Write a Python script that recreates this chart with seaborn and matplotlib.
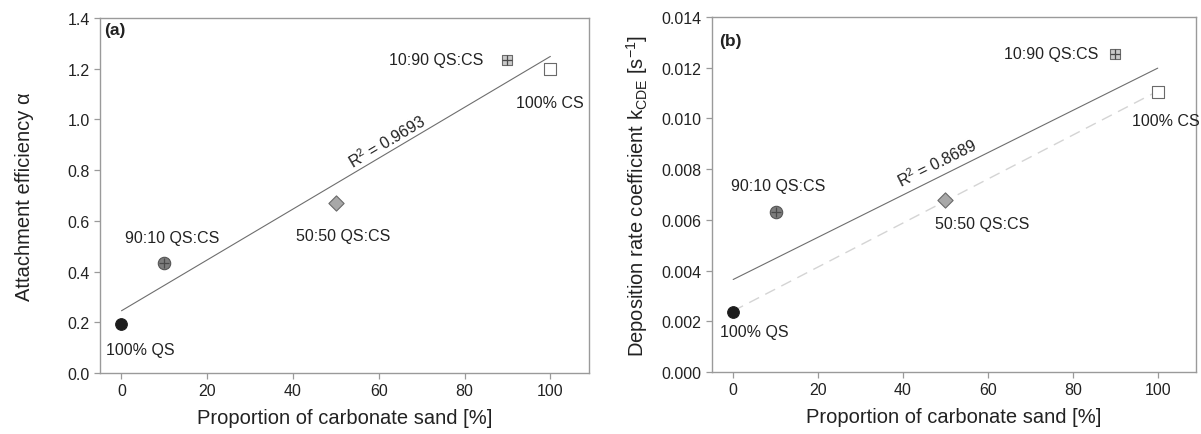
import numpy as np
import pandas as pd
import matplotlib
matplotlib.use("Agg")
import matplotlib.pyplot as plt
import seaborn as sns

# ---- data ----
proportion = [0, 10, 50, 90, 100]
labels = ["100% QS", "90:10 QS:CS", "50:50 QS:CS", "10:90 QS:CS", "100% CS"]
alpha_vals = [0.195, 0.435, 0.67, 1.235, 1.20]
kcde_vals = [0.00238, 0.0063, 0.0068, 0.01255, 0.01105]
r2_a = "0.9693"
r2_b = "0.8689"
dashed_subset = ["100% QS", "50:50 QS:CS", "100% CS"]

sns.set_style("ticks")
plt.rcParams["font.family"] = ["Liberation Sans", "DejaVu Sans"]
plt.rcParams["mathtext.fontset"] = "custom"
plt.rcParams["mathtext.rm"] = "Liberation Sans"
plt.rcParams["mathtext.it"] = "Liberation Sans"

df = pd.DataFrame({"x": proportion, "label": labels, "alpha": alpha_vals, "k": kcde_vals})

spine_c = "#9a9a9a"
text_c = "#222222"
TICK_FS = 11.5
ANN_FS = 11.5
LAB_FS = 14.5

fig = plt.figure(figsize=(12.01, 4.35), dpi=100)
axA = fig.add_axes([0.0833, 0.1402, 0.4071, 0.8161])
axB = fig.add_axes([0.5928, 0.1425, 0.4030, 0.8161])

marker_styles = {
    "100% QS": dict(marker="o", s=70, color="#1c1c1c", edgecolor="#1c1c1c", linewidth=0.8),
    "90:10 QS:CS": dict(marker="o", s=80, color="#7d7d7d", edgecolor="#555555", linewidth=0.8),
    "50:50 QS:CS": dict(marker="D", s=60, color="#a8a8a8", edgecolor="#6a6a6a", linewidth=0.8),
    "10:90 QS:CS": dict(marker="s", s=55, color="#cacaca", edgecolor="#6a6a6a", linewidth=0.8),
    "100% CS": dict(marker="s", s=80, color="white", edgecolor="#6a6a6a", linewidth=0.8),
}


def draw_panel(ax, ycol, ylim, yticks, yfmt, ylabel, ypad, r2, ann_offsets, r2_pos, r2_off,
               panel, panel_xy, dashed=False):
    # regression line over all points
    sns.regplot(data=df, x="x", y=ycol, ax=ax, scatter=False, ci=None, truncate=True,
                line_kws=dict(color="#6e6e6e", lw=0.8, zorder=1))
    if dashed:
        sub = df[df["label"].isin(dashed_subset)]
        sns.regplot(data=sub, x="x", y=ycol, ax=ax, scatter=False, ci=None, truncate=True,
                    line_kws=dict(color="#d4d4d4", lw=1.0, ls=(0, (8, 5)), zorder=1))
    for lab in labels:
        sub = df[df["label"] == lab]
        st = marker_styles[lab]
        sns.scatterplot(data=sub, x="x", y=ycol, ax=ax, marker=st["marker"], s=st["s"],
                        color=st["color"], edgecolor=st["edgecolor"], linewidth=st["linewidth"],
                        zorder=3, legend=False)
        if lab in ("90:10 QS:CS", "10:90 QS:CS"):
            sns.scatterplot(data=sub, x="x", y=ycol, ax=ax, marker="+",
                            s=(60 if lab == "90:10 QS:CS" else 45),
                            color="#4a4a4a", linewidth=0.9, zorder=4, legend=False)
    for lab, (dx, dy, ha) in ann_offsets.items():
        row = df[df["label"] == lab].iloc[0]
        ax.annotate(lab, (row["x"], row[ycol]), xytext=(dx, dy), textcoords="offset pixels",
                    ha=ha, va="center", fontsize=ANN_FS, color=text_c)
    # R^2 text along the fit line
    slope, icpt = np.polyfit(df["x"], df[ycol], 1)
    ax.set_xlim(-5, 109)
    ax.set_ylim(*ylim)
    xr = r2_pos
    yr = icpt + slope * xr
    p0 = ax.transData.transform((0, icpt))
    p1 = ax.transData.transform((100, icpt + slope * 100))
    ang = np.degrees(np.arctan2(p1[1] - p0[1], p1[0] - p0[0]))
    ax.annotate(f"R$^2$ = {r2}", (xr, yr), xytext=r2_off, textcoords="offset pixels",
                rotation=ang, rotation_mode="anchor", ha="center", va="bottom",
                fontsize=ANN_FS, color=text_c)
    ax.text(panel_xy[0], panel_xy[1], panel, transform=ax.transAxes, fontsize=12.5,
            fontweight="bold", color=text_c, ha="left", va="center")
    ax.set_xticks([0, 20, 40, 60, 80, 100])
    ax.set_yticks(yticks)
    ax.set_yticklabels([yfmt.format(v) for v in yticks])
    ax.set_xlabel("Proportion of carbonate sand [%]", fontsize=LAB_FS, color=text_c, labelpad=7)
    ax.set_ylabel(ylabel, fontsize=LAB_FS, color=text_c, labelpad=ypad)
    ax.tick_params(axis="both", labelsize=TICK_FS, colors=spine_c, labelcolor=text_c,
                   length=4, width=0.9, direction="out")
    for sp in ax.spines.values():
        sp.set_visible(True)
        sp.set_color(spine_c)
        sp.set_linewidth(1.0)


draw_panel(axA, "alpha", (0, 1.4), [0.0, 0.2, 0.4, 0.6, 0.8, 1.0, 1.2, 1.4], "{:.1f}",
           "Attachment efficiency α", 24, r2_a,
           {"100% QS": (19, -26, "center"), "90:10 QS:CS": (8, 25, "center"),
            "50:50 QS:CS": (7, -32, "center"), "10:90 QS:CS": (-24, 0, "right"),
            "100% CS": (0, -34, "center")},
           63, (0, 2), "(a)", (0.008, 0.969))

draw_panel(axB, "k", (0, 0.014), [0.0, 0.002, 0.004, 0.006, 0.008, 0.010, 0.012, 0.014], "{:.3f}",
           r"Deposition rate coefficient k$_{\mathrm{CDE}}$ [s$^{\mathrm{-1}}$]", 8, r2_b,
           {"100% QS": (21, -20, "center"), "90:10 QS:CS": (3, 27, "center"),
            "50:50 QS:CS": (-10, -24, "left"), "10:90 QS:CS": (-17, 0, "right"),
            "100% CS": (8, -29, "center")},
           49, (0, 5), "(b)", (0.014, 0.935), dashed=True)

fig.savefig("out.png", dpi=100)
